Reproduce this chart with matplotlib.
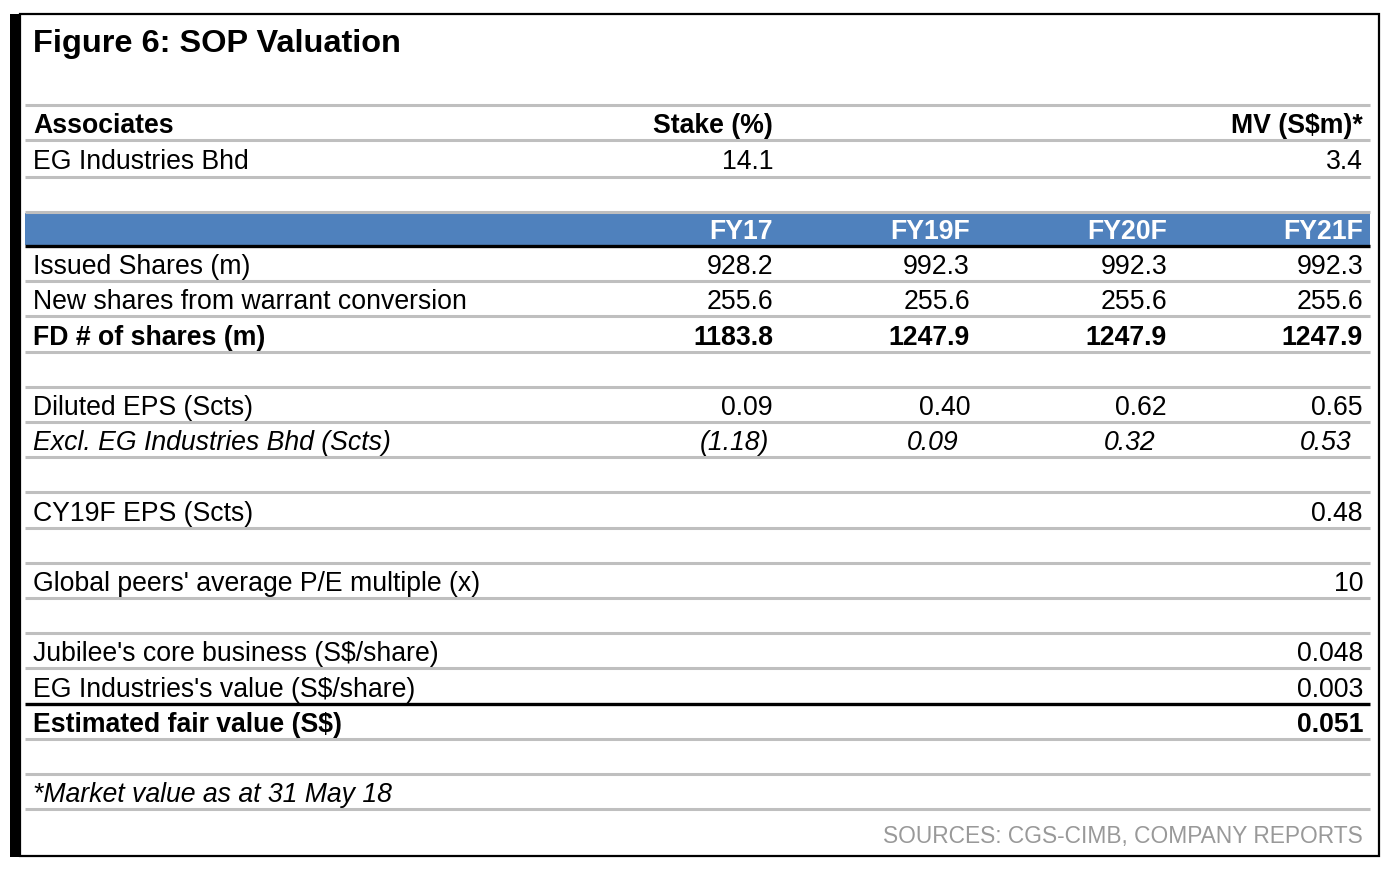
import matplotlib.pyplot as plt
from matplotlib.patches import Rectangle

plt.rcParams['font.family'] = ['Liberation Sans', 'DejaVu Sans']

title = "Figure 6: SOP Valuation"
source = "SOURCES: CGS-CIMB, COMPANY REPORTS"

assoc_header = ["Associates", "Stake (%)", "MV (S$m)*"]
assoc_row = ["EG Industries Bhd", "14.1", "3.4"]

years = ["FY17", "FY19F", "FY20F", "FY21F"]

# label, values, style  (None = blank spacer row)
rows = [
    ("Issued Shares (m)", ["928.2", "992.3", "992.3", "992.3"], "normal"),
    ("New shares from warrant conversion", ["255.6", "255.6", "255.6", "255.6"], "normal"),
    ("FD # of shares (m)", ["1183.8", "1247.9", "1247.9", "1247.9"], "bold"),
    None,
    ("Diluted EPS (Scts)", ["0.09", "0.40", "0.62", "0.65"], "normal"),
    ("Excl. EG Industries Bhd (Scts)", ["(1.18)", "0.09", "0.32", "0.53"], "italic"),
    None,
    ("CY19F EPS (Scts)", ["", "", "", "0.48"], "normal"),
    None,
    ("Global peers' average P/E multiple (x)", ["", "", "", "10"], "normal"),
    None,
    ("Jubilee's core business (S$/share)", ["", "", "", "0.048"], "normal"),
    ("EG Industries's value (S$/share)", ["", "", "", "0.003"], "normal"),
    ("Estimated fair value (S$)", ["", "", "", "0.051"], "bold"),
    None,
    ("*Market value as at 31 May 18", ["", "", "", ""], "italic"),
]

W, H = 1398, 876
fig = plt.figure(figsize=(W / 100, H / 100), dpi=100)
ax = fig.add_axes([0, 0, 1, 1])
ax.set_xlim(0, W)
ax.set_ylim(H, 0)
ax.axis('off')

GRAY = '#bfbfbf'
BLUE = '#4f81bd'
FS = 19.2
x_left, x_right = 25, 1370
col_right = [773, 970, 1167, 1363]
row_h = 35.2

# outer frame
ax.add_patch(Rectangle((20, 14), 1359, 842, fill=False, ec='black', lw=1.6))
ax.add_patch(Rectangle((10, 14), 10, 843, fc='black', ec='none'))

ax.text(33, 52, title, fontsize=23.4, fontweight='bold', va='baseline')

def hline(y, color=GRAY, lw=2.2):
    ax.plot([x_left, x_right], [y, y], color=color, lw=lw, solid_capstyle='butt')

# associates block
hline(105)
ax.text(33, 133, assoc_header[0], fontsize=FS, fontweight='bold')
ax.text(773, 133, assoc_header[1], fontsize=FS, fontweight='bold', ha='right')
ax.text(1363, 133, assoc_header[2], fontsize=FS, fontweight='bold', ha='right')
hline(140)
ax.text(33, 169, assoc_row[0], fontsize=FS)
ax.text(773, 169, assoc_row[1], fontsize=FS, ha='right')
ax.text(1363, 169, assoc_row[2], fontsize=FS, ha='right')
hline(177)

# blue header band
hline(212)
ax.add_patch(Rectangle((x_left, 213), x_right - x_left, 32, fc=BLUE, ec='none'))
for xr, yr in zip(col_right, years):
    ax.text(xr, 239, yr, fontsize=FS, fontweight='bold', color='white', ha='right')
hline(246, color='black', lw=2.4)

y_line = 246
for r in rows:
    y_next = y_line + row_h
    if r is not None:
        label, vals, style = r
        kw = {}
        if style == 'bold':
            kw['fontweight'] = 'bold'
        if style == 'italic':
            kw['fontstyle'] = 'italic'
        base = y_next - 7
        ax.text(33, base, label, fontsize=FS, **kw)
        for xr, v in zip(col_right, vals):
            if v:
                shift = -4 if style == 'italic' else 0
                if style == 'italic' and xr != 773:
                    shift = -12
                ax.text(xr + shift, base, v, fontsize=FS, ha='right', **kw)
    y_line = y_next
    is_black = r is not None and r[0].startswith("EG Industries's")
    hline(y_line, color='black' if is_black else GRAY, lw=2.4 if is_black else 2.2)

ax.text(1363, 843, source, fontsize=16.4, color='#999999', ha='right')

fig.savefig('out.png', dpi=100)
